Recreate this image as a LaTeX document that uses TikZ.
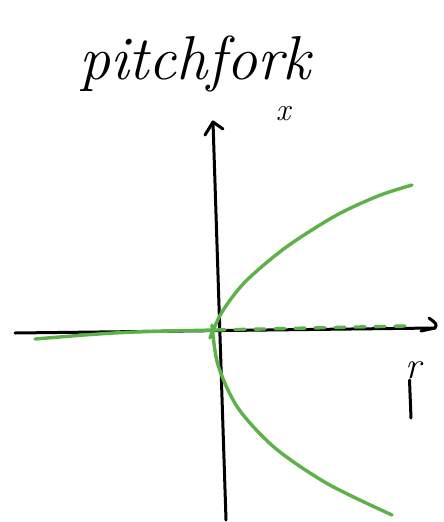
\documentclass[tikz,border=0pt]{standalone}
\usepackage{fontspec}
\setmainfont{Latin Modern Roman}
\begin{document}
\begin{tikzpicture}[x=1pt,y=-1pt,
  axis/.style={line width=3pt,line cap=round,line join=round,black},
  branch/.style={line width=3.4pt,line cap=round,color={rgb,255:red,92;green,178;blue,72}},
  unstable/.style={branch,dash pattern=on 10pt off 10pt}]
\useasboundingbox (0,0) rectangle (444,522);
% title
\node[font=\fontsize{62}{66}\selectfont\itshape,anchor=center] (title) at (195,64) {pitchfork};
% axes
\coordinate (o) at (215,330);
\coordinate (ytop) at (213,122);
\coordinate (ybot) at (226,520);
\coordinate (xl) at (15,333);
\coordinate (xr) at (435,328);
\draw[axis] (ybot) -- (ytop);
\draw[axis] (205,135) -- (ytop) -- (223,129);
\draw[axis] (xl) -- (xr);
\draw[axis] (429,318) .. controls (437,324) .. (xr) -- (421,331);
% labels
\node[font=\fontsize{32}{34}\selectfont\itshape] (xlab) at (283,114) {x};
\node[font=\fontsize{38}{40}\selectfont\itshape] (rlab) at (413,370) {r};
\draw[axis] (409.5,380) -- (411,418);
% branches
\draw[branch] (35,339) .. controls (120,332) .. (o);
\draw[unstable] (o) -- (405,326);
\draw[branch] plot[smooth] coordinates {(210,338) (222,312) (245,282) (285,248) (335,216) (378,196) (412,185)};
\draw[branch] plot[smooth] coordinates {(212,325) (218,365) (238,408) (275,448) (328,484) (392,515)};
\end{tikzpicture}
\end{document}
